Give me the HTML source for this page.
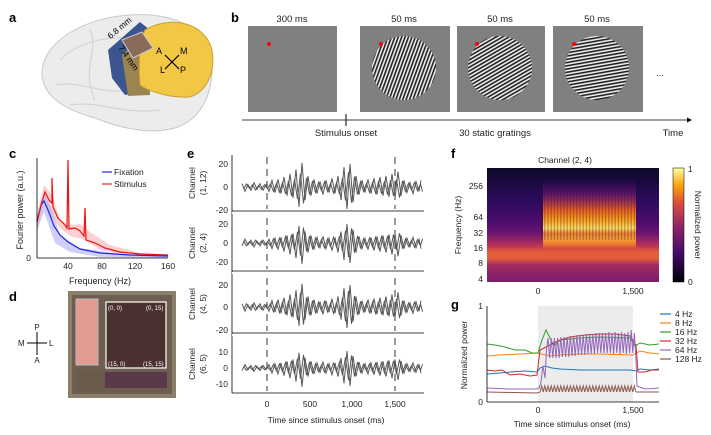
<!DOCTYPE html>
<html><head><meta charset="utf-8"><style>
html,body{margin:0;padding:0;background:#fff;}
svg{display:block;font-family:"Liberation Sans",sans-serif;}
</style></head><body>
<svg width="711" height="435" viewBox="0 0 711 435" xmlns="http://www.w3.org/2000/svg">
<defs>
<pattern id="st" width="3.2" height="10" patternUnits="userSpaceOnUse"><rect width="3.2" height="10" fill="#eee"/><rect width="1.6" height="10" fill="#222"/></pattern>
<pattern id="zz" x="540" y="384" width="3.2" height="10" patternUnits="userSpaceOnUse"><polyline points="0,8 1.6,2 3.2,8" fill="none" stroke="#8c564b" stroke-width="1"/></pattern>
<pattern id="vs" x="541" y="0" width="3.2" height="10" patternUnits="userSpaceOnUse"><rect width="1.2" height="10" fill="#300a40" fill-opacity="0.35"/></pattern>
<linearGradient id="cb" x1="0" y1="1" x2="0" y2="0">
<stop offset="0" stop-color="#000004"/><stop offset="0.25" stop-color="#420a68"/><stop offset="0.5" stop-color="#932667"/><stop offset="0.7" stop-color="#dd513a"/><stop offset="0.85" stop-color="#fca50a"/><stop offset="1" stop-color="#fcffa4"/></linearGradient>
<linearGradient id="bg" gradientUnits="userSpaceOnUse" x1="0" y1="168" x2="0" y2="282">
<stop offset="0" stop-color="#0d0829"/><stop offset="0.28" stop-color="#2a0b5a"/><stop offset="0.46" stop-color="#4a0c6b"/><stop offset="0.57" stop-color="#6a1570"/><stop offset="0.68" stop-color="#b8325a"/><stop offset="0.73" stop-color="#e0583a"/><stop offset="0.79" stop-color="#e5603a"/><stop offset="0.85" stop-color="#a52c60"/><stop offset="0.93" stop-color="#8a2266"/><stop offset="1" stop-color="#7a1d6c"/></linearGradient>
<linearGradient id="sg" gradientUnits="userSpaceOnUse" x1="0" y1="180" x2="0" y2="250">
<stop offset="0" stop-color="#5a1470" stop-opacity="0"/><stop offset="0.2" stop-color="#7a1a70" stop-opacity="0.7"/><stop offset="0.43" stop-color="#e86020"/><stop offset="0.57" stop-color="#f8a018"/><stop offset="0.69" stop-color="#fde060"/><stop offset="0.76" stop-color="#f08030"/><stop offset="0.85" stop-color="#f5a030"/><stop offset="0.94" stop-color="#e86a30"/><stop offset="1" stop-color="#e06030" stop-opacity="0"/></linearGradient>
<path id="tr" vector-effect="non-scaling-stroke" d="M242,-3 L245,4 L248,-2 L251,3 L254,-4 L257,2 L260,-3 L263,3 L266,-2 L269,4 L272,-6 L275,5 L278,-7 L281,6 L284,-9 L287,8 L290,-12 L293,10 L296,-16 L299,18 L302,-22 L305,12 L308,-10 L311,8 L314,-7 L317,6 L320,-5 L323,7 L326,-6 L329,5 L332,-8 L335,6 L338,-10 L341,12 L344,-18 L347,20 L350,-21 L353,14 L356,-10 L359,7 L362,-6 L365,5 L368,-7 L371,6 L374,-8 L377,7 L380,-9 L383,8 L386,-10 L389,9 L392,-12 L395,10 L398,-14 L401,8 L404,-6 L407,5 L410,-4 L413,6 L416,-5 L419,4 L421,-6"/>
</defs>
<g font-weight="bold" font-size="13" fill="#000">
<text x="9" y="22">a</text><text x="231" y="22">b</text><text x="9" y="158">c</text><text x="9" y="301">d</text><text x="187" y="158">e</text><text x="451" y="158">f</text><text x="451" y="309">g</text></g>
<!-- a brain -->
<g>
<path d="M42,75 C40,45 80,18 130,15 C175,12 210,30 212,60 C214,95 200,120 175,128 C150,135 120,128 95,118 C60,108 44,95 42,75Z" fill="#ececec" stroke="#c8c8c8"/>
<path d="M60,60 C80,40 110,35 140,40 M55,85 C80,80 100,95 130,90 M70,105 C100,100 120,115 160,110 M90,30 C100,50 80,70 95,100" fill="none" stroke="#d0d0d0"/>
<path d="M108,50 L140,22 L150,30 L148,90 L125,95 L112,78Z" fill="#3a558f"/>
<path d="M122,55 L150,28 L150,95 L128,96Z" fill="#9a8550"/>
<path d="M145,30 C170,15 205,22 212,50 C216,75 205,92 190,97 C170,98 150,92 140,85 C138,60 140,40 145,30Z" fill="#f2c744" stroke="#c9a030"/>
<path d="M122,40 L142,32 L153,48 L133,58Z" fill="#8a6a5a" stroke="#ccc"/>
<text x="110" y="38" font-size="8.5" transform="rotate(-40 112 38)">6.8 mm</text>
<text x="118" y="48" font-size="8.5" transform="rotate(55 118 48)">7.4 mm</text>
<text x="156" y="54" font-size="9">A</text><text x="180" y="54" font-size="9">M</text><text x="160" y="73" font-size="9">L</text><text x="180" y="73" font-size="9">P</text>
<path d="M165,55 L179,69 M179,55 L165,69" stroke="#000" stroke-width="1.2"/>
</g>
<!-- b -->
<g font-size="9.5" text-anchor="middle" fill="#222">
<text x="292" y="22">300 ms</text><text x="404" y="22">50 ms</text><text x="500" y="22">50 ms</text><text x="597" y="22">50 ms</text>
<rect x="248" y="26" width="89" height="86" fill="#808080"/>
<rect x="360" y="26" width="90" height="86" fill="#808080"/>
<rect x="457" y="26" width="88" height="86" fill="#808080"/>
<rect x="553" y="26" width="90" height="86" fill="#808080"/>
<clipPath id="c1"><circle cx="404" cy="68" r="32"/></clipPath>
<clipPath id="c2"><circle cx="500" cy="68" r="32"/></clipPath>
<clipPath id="c3"><circle cx="597" cy="68" r="32"/></clipPath>
<g clip-path="url(#c1)"><rect x="340" y="0" width="130" height="140" fill="url(#st)" transform="rotate(20 404 68)"/></g>
<g clip-path="url(#c2)"><rect x="440" y="0" width="130" height="140" fill="url(#st)" transform="rotate(60 500 68)"/></g>
<g clip-path="url(#c3)"><rect x="530" y="0" width="130" height="140" fill="url(#st)" transform="rotate(80 597 68)"/></g>
<circle cx="269" cy="44" r="2" fill="#f00"/><circle cx="381" cy="44" r="2" fill="#f00"/><circle cx="477" cy="44" r="2" fill="#f00"/><circle cx="574" cy="44" r="2" fill="#f00"/>
<text x="660" y="76">...</text>
<line x1="242" y1="120" x2="690" y2="120" stroke="#000" stroke-width="0.8"/><path d="M692,120 l-5,-2.5 v5z" fill="#000"/>
<line x1="346" y1="114" x2="346" y2="126" stroke="#000" stroke-width="1"/>
<text x="346" y="136">Stimulus onset</text><text x="495" y="136">30 static gratings</text><text x="673" y="136">Time</text>
</g>
<!-- c -->
<g font-size="9" fill="#222">
<text transform="translate(23,210) rotate(-90)" text-anchor="middle">Fourier power (a.u.)</text>
<text x="100" y="284" text-anchor="middle">Frequency (Hz)</text>
<g text-anchor="middle" font-size="8.5"><text x="68" y="269">40</text><text x="102" y="269">80</text><text x="135" y="269">120</text><text x="168" y="269">160</text></g>
<text x="31" y="261" text-anchor="end" font-size="8.5">0</text>
<line x1="102" y1="172" x2="112" y2="172" stroke="#22e" stroke-width="1.2"/><text x="114" y="175" font-size="8.5">Fixation</text>
<line x1="102" y1="184" x2="112" y2="184" stroke="#e22" stroke-width="1.2"/><text x="114" y="187" font-size="8.5">Stimulus</text>
<path d="M37,215 L44,185 L52,195 L60,220 L70,225 L80,224 L90,232 L110,245 L140,253 L168,255 L168,258 L130,256 L100,250 L85,240 L70,236 L60,228 L50,215 L44,200 L37,235Z" fill="#f7b0b0" opacity="0.6"/>
<path d="M37,218 L44,192 L52,210 L60,235 L80,248 L120,254 L168,256 L168,258 L100,257 L70,252 L55,243 L44,212 L37,230Z" fill="#b0b0f0" opacity="0.6"/>
<path d="M37,222 L41,205 L44,201 L48,210 L54,226 L60,235 L68,242 L80,249 L100,253 L130,255 L168,256" fill="none" stroke="#22e" stroke-width="1.2"/>
<path d="M37,222 L41,205 L45,192 L49,200 L52,203 L52,178 L53,207 L58,218 L65,225 L67,228 L68,160 L69,229 L75,228 L80,231 L84,236 L85,208 L86,240 L95,243 L105,248 L120,252 L140,254 L168,255" fill="none" stroke="#e11" stroke-width="1.2"/>
<line x1="37" y1="158" x2="37" y2="258" stroke="#000" stroke-width="0.8"/><line x1="37" y1="258" x2="168" y2="258" stroke="#000" stroke-width="0.8"/>
</g>
<!-- d -->
<g font-size="8" fill="#222">
<line x1="37" y1="332" x2="37" y2="355" stroke="#000"/><line x1="27" y1="343" x2="47" y2="343" stroke="#000"/>
<text x="37" y="330" text-anchor="middle">P</text><text x="37" y="363" text-anchor="middle">A</text><text x="18" y="346">M</text><text x="49" y="346">L</text>
<rect x="68" y="291" width="108" height="107" fill="#8a7f6a"/>
<rect x="72" y="295" width="100" height="99" fill="#6e5e50"/>
<rect x="76" y="299" width="22" height="66" fill="#e39b92" stroke="#bbb"/>
<rect x="75" y="370" width="30" height="22" fill="#6a5c4a"/>
<rect x="105" y="372" width="62" height="16" fill="#5a3a4a"/>
<rect x="106" y="302" width="60" height="66" fill="#4b3030" stroke="#fff" stroke-width="1.2"/>
<g font-size="6" fill="#fff"><text x="108" y="310">(0, 0)</text><text x="146" y="310">(0, 15)</text><text x="108" y="366">(15, 0)</text><text x="143" y="366">(15, 15)</text></g>
</g>
<!-- e -->
<g font-size="8.5" fill="#222">
<g stroke="#000" stroke-width="0.8">
<line x1="232" y1="155" x2="232" y2="393"/>
<line x1="232" y1="211" x2="424" y2="211"/><line x1="232" y1="271" x2="424" y2="271"/><line x1="232" y1="333" x2="424" y2="333"/><line x1="232" y1="393" x2="424" y2="393"/>
<line x1="232" y1="213" x2="424" y2="213" stroke="#fff" stroke-width="2"/><line x1="232" y1="273" x2="424" y2="273" stroke="#fff" stroke-width="2"/><line x1="232" y1="335" x2="424" y2="335" stroke="#fff" stroke-width="2"/>
</g>
<g stroke="#333" stroke-dasharray="7,5" stroke-width="1">
<line x1="267" y1="157" x2="267" y2="209"/><line x1="395" y1="157" x2="395" y2="209"/>
<line x1="267" y1="218" x2="267" y2="269"/><line x1="395" y1="218" x2="395" y2="269"/>
<line x1="267" y1="278" x2="267" y2="331"/><line x1="395" y1="278" x2="395" y2="331"/>
<line x1="267" y1="338" x2="267" y2="391"/><line x1="395" y1="338" x2="395" y2="391"/>
</g>
<g fill="none" stroke="#585858" stroke-width="1">
<use href="#tr" transform="translate(0,187) scale(1,1.1)"/><use href="#tr" transform="translate(1.5,187) scale(1,-0.75)"/>
<use href="#tr" transform="translate(0,243) scale(1,-0.95)"/><use href="#tr" transform="translate(1.5,243) scale(1,0.7)"/>
<use href="#tr" transform="translate(0,307) scale(1,1.05)"/><use href="#tr" transform="translate(1.5,307) scale(1,-0.8)"/>
<use href="#tr" transform="translate(0,368) scale(1,-0.85)"/><use href="#tr" transform="translate(1.5,368) scale(1,0.6)"/>
</g>
<g text-anchor="end">
<text x="228" y="167">20</text><text x="228" y="190">0</text><text x="228" y="213">-20</text>
<text x="228" y="227">20</text><text x="228" y="246">0</text><text x="228" y="265">-20</text>
<text x="228" y="288">20</text><text x="228" y="310">0</text><text x="228" y="333">-20</text>
<text x="228" y="355">10</text><text x="228" y="371">0</text><text x="228" y="387">-10</text>
</g>
<g text-anchor="middle">
<text transform="translate(195,183) rotate(-90)">Channel</text><text transform="translate(206,183) rotate(-90)">(1, 12)</text>
<text transform="translate(195,243) rotate(-90)">Channel</text><text transform="translate(206,243) rotate(-90)">(2, 4)</text>
<text transform="translate(195,304) rotate(-90)">Channel</text><text transform="translate(206,304) rotate(-90)">(4, 5)</text>
<text transform="translate(195,364) rotate(-90)">Channel</text><text transform="translate(206,364) rotate(-90)">(6, 5)</text>
<text x="267" y="407">0</text><text x="310" y="407">500</text><text x="352" y="407">1,000</text><text x="395" y="407">1,500</text>
<text x="326" y="423">Time since stimulus onset (ms)</text>
</g>
</g>
<!-- f -->
<g font-size="8.5" fill="#222">
<text x="565" y="163" text-anchor="middle">Channel (2, 4)</text>
<rect x="487" y="168" width="172" height="114" fill="url(#bg)"/>
<rect x="543" y="180" width="93" height="70" fill="url(#sg)"/>
<rect x="541" y="180" width="95" height="60" fill="url(#vs)"/>
<rect x="673" y="168" width="11" height="114" fill="url(#cb)" stroke="#000" stroke-width="0.5"/>
<text x="688" y="172">1</text><text x="688" y="285">0</text>
<text transform="translate(695,225) rotate(90)" text-anchor="middle">Normalized power</text>
<g text-anchor="end"><text x="483" y="189">256</text><text x="483" y="220">64</text><text x="483" y="236">32</text><text x="483" y="251">16</text><text x="483" y="266">8</text><text x="483" y="282">4</text></g>
<text transform="translate(461,225) rotate(-90)" text-anchor="middle">Frequency (Hz)</text>
<text x="538" y="294" text-anchor="middle">0</text><text x="633" y="294" text-anchor="middle">1,500</text>
</g>
<!-- g -->
<g font-size="8.5" fill="#222">
<rect x="538" y="306" width="95" height="96" fill="#ececec"/>
<text transform="translate(467,355) rotate(-90)" text-anchor="middle">Normalized power</text>
<text x="483" y="309" text-anchor="end">1</text><text x="483" y="405" text-anchor="end">0</text>
<text x="538" y="413" text-anchor="middle">0</text><text x="633" y="413" text-anchor="middle">1,500</text>
<text x="572" y="427" text-anchor="middle">Time since stimulus onset (ms)</text>
<g fill="none" stroke-width="1">
<path stroke="#1f77b4" d="M487,374 L500,373 L510,372 L525,371 L537,372 L540,368 L545,366 L552,368 L560,369 L580,370 L600,370 L630,370 L636,371 L640,369 L650,370 L659,369"/>
<path stroke="#ff7f0e" d="M487,356 L500,355 L520,354 L537,353 L550,356 L560,355 L580,354 L600,354 L633,355 L640,351 L650,353 L659,354"/>
<path stroke="#2ca02c" d="M487,344 L495,345 L505,347 L515,350 L525,350 L532,353 L538,353 L542,340 L546,330 L550,338 L554,346 L560,340 L580,338 L600,337 L630,338 L635,346 L640,343 L650,345 L659,344"/>
<path stroke="#d62728" d="M487,370 L495,371 L502,370 L510,375 L520,374 L530,376 L537,375 L540,350 L550,345 L560,340 L570,337 L585,335 L600,334 L615,334 L630,336 L636,345 L638,372 L645,372 L652,370 L659,370"/>
<path stroke="#9467bd" d="M487,388 L510,389 L537,389 L539,388 L541,382 L543,366 L545,378 L546.5,350 L548,338 L549.6,358 L551.2,338 L552.8,358 L554.4,338 L556,358 L557.6,338 L559.2,358 L560.8,337 L562.4,357 L564,337 L565.6,357 L567.2,337 L568.8,357 L570.4,336 L572,356 L573.6,336 L575.2,356 L576.8,335 L578.4,355 L580,335 L581.6,355 L583.2,335 L584.8,355 L586.4,334 L588,354 L589.6,334 L591.2,354 L592.8,334 L594.4,354 L596,333 L597.6,353 L599.2,333 L600.8,353 L602.4,333 L604,353 L605.6,333 L607.2,353 L608.8,332 L610.4,353 L612,333 L613.6,354 L615.2,332 L616.8,353 L618.4,333 L620,354 L621.6,332 L623.2,353 L624.8,333 L626.4,354 L628,332 L629.6,353 L631.2,330 L632.8,353 L634.4,333 L636,360 L637,386 L645,389 L659,388"/>
<path stroke="#8c564b" d="M487,392 L537,393 L540,392 M636,392 L659,392"/>
</g>
<rect x="540" y="384" width="96" height="10" fill="url(#zz)"/>
<line x1="487" y1="306" x2="487" y2="402" stroke="#000" stroke-width="0.8"/>
<line x1="487" y1="402" x2="659" y2="402" stroke="#000" stroke-width="0.8"/>
<g font-size="8.5">
<line x1="660" y1="314" x2="671" y2="314" stroke="#1f77b4" stroke-width="1.2"/><text x="675" y="317">4 Hz</text>
<line x1="660" y1="323" x2="671" y2="323" stroke="#ff7f0e" stroke-width="1.2"/><text x="675" y="326">8 Hz</text>
<line x1="660" y1="332" x2="671" y2="332" stroke="#2ca02c" stroke-width="1.2"/><text x="675" y="335">16 Hz</text>
<line x1="660" y1="341" x2="671" y2="341" stroke="#d62728" stroke-width="1.2"/><text x="675" y="344">32 Hz</text>
<line x1="660" y1="350" x2="671" y2="350" stroke="#9467bd" stroke-width="1.2"/><text x="675" y="353">64 Hz</text>
<line x1="660" y1="359" x2="671" y2="359" stroke="#8c564b" stroke-width="1.2"/><text x="675" y="362">128 Hz</text>
</g>
</g>
</svg>
</body></html>
